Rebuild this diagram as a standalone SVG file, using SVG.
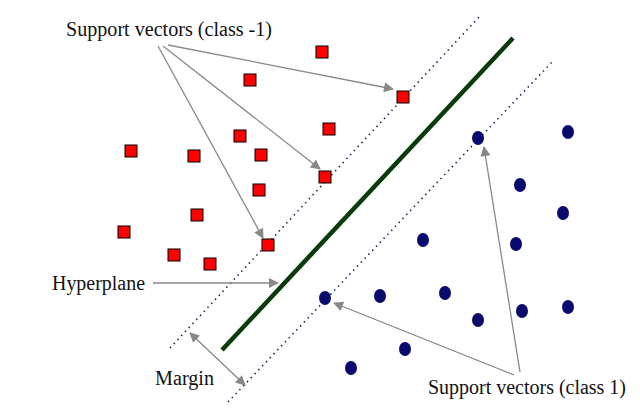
<svg xmlns="http://www.w3.org/2000/svg" width="640" height="412" viewBox="0 0 640 412">
<style>
.sq{fill:#f00;stroke:#000;stroke-width:1}
.ci{fill:#0a0a6e}
.dot{stroke:#1a2a5a;stroke-width:1.6;stroke-dasharray:1.5 4;fill:none}
.ar{stroke:#888;stroke-width:1.3;fill:none}
text{font-family:"Liberation Serif",serif;font-size:20px;fill:#111}
</style>
<defs>
<marker id="ah" viewBox="0 0 10 10" refX="9" refY="5" markerWidth="12" markerHeight="10" markerUnits="userSpaceOnUse" orient="auto-start-reverse"><path d="M0,0L10,5L0,10z" fill="#888"/></marker>
</defs>
<g id="lines">
<line class="dot" x1="170" y1="348" x2="480" y2="16"/>
<line class="dot" x1="228" y1="402" x2="552" y2="62"/>
<line x1="222" y1="350" x2="513" y2="38" stroke="#0b3a0b" stroke-width="4.5"/>
</g>
<g id="class-neg">
<rect class="sq" x="316" y="46" width="12" height="12"/>
<rect class="sq" x="244" y="74" width="12" height="12"/>
<rect class="sq" x="397" y="91" width="12" height="12"/>
<rect class="sq" x="323" y="123" width="12" height="12"/>
<rect class="sq" x="234" y="130" width="12" height="12"/>
<rect class="sq" x="125" y="145" width="12" height="12"/>
<rect class="sq" x="188" y="150" width="12" height="12"/>
<rect class="sq" x="255" y="149" width="12" height="12"/>
<rect class="sq" x="319" y="171" width="12" height="12"/>
<rect class="sq" x="253" y="184" width="12" height="12"/>
<rect class="sq" x="191" y="209" width="12" height="12"/>
<rect class="sq" x="118" y="226" width="12" height="12"/>
<rect class="sq" x="262" y="239" width="12" height="12"/>
<rect class="sq" x="168" y="249" width="12" height="12"/>
<rect class="sq" x="204" y="258" width="12" height="12"/>
</g>
<g id="class-pos">
<ellipse class="ci" cx="478" cy="138" rx="6" ry="7"/>
<ellipse class="ci" cx="568" cy="132" rx="6" ry="7"/>
<ellipse class="ci" cx="520" cy="185" rx="6" ry="7"/>
<ellipse class="ci" cx="563" cy="213" rx="6" ry="7"/>
<ellipse class="ci" cx="423" cy="240" rx="6" ry="7"/>
<ellipse class="ci" cx="516" cy="244" rx="6" ry="7"/>
<ellipse class="ci" cx="325" cy="298" rx="6" ry="7"/>
<ellipse class="ci" cx="380" cy="296" rx="6" ry="7"/>
<ellipse class="ci" cx="445" cy="293" rx="6" ry="7"/>
<ellipse class="ci" cx="478" cy="320" rx="6" ry="7"/>
<ellipse class="ci" cx="522" cy="311" rx="6" ry="7"/>
<ellipse class="ci" cx="568" cy="307" rx="6" ry="7"/>
<ellipse class="ci" cx="405" cy="349" rx="6" ry="7"/>
<ellipse class="ci" cx="351" cy="368" rx="6" ry="7"/>
</g>
<g id="connectors">
<line class="ar" x1="168" y1="45" x2="393" y2="89" marker-end="url(#ah)"/>
<line class="ar" x1="163" y1="46" x2="320" y2="169" marker-end="url(#ah)"/>
<line class="ar" x1="158" y1="46" x2="263" y2="238" marker-end="url(#ah)"/>
<line class="ar" x1="153" y1="283" x2="278" y2="283" marker-end="url(#ah)"/>
<line class="ar" x1="190" y1="333" x2="245" y2="385" marker-start="url(#ah)" marker-end="url(#ah)"/>
<line class="ar" x1="514" y1="375" x2="334" y2="303" marker-end="url(#ah)"/>
<line class="ar" x1="520" y1="372" x2="484" y2="147" marker-end="url(#ah)"/>
</g>
<g id="labels">
<text x="66" y="36" textLength="206" lengthAdjust="spacingAndGlyphs">Support vectors (class -1)</text>
<text x="52" y="290" textLength="93" lengthAdjust="spacingAndGlyphs">Hyperplane</text>
<text x="155" y="385" textLength="59" lengthAdjust="spacingAndGlyphs">Margin</text>
<text x="428" y="394" textLength="198" lengthAdjust="spacingAndGlyphs">Support vectors (class 1)</text>
</g>
</svg>
